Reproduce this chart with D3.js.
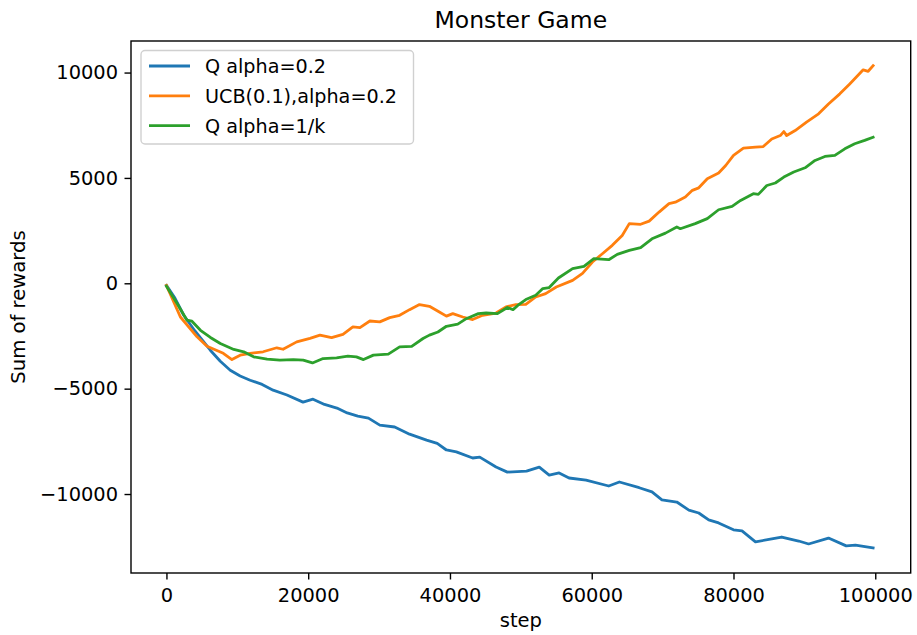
<!DOCTYPE html>
<html><head><meta charset="utf-8">
<script src="https://cdn.jsdelivr.net/npm/d3@7"></script>
<style>
body{margin:0;background:#fff;}
text{font-family:"DejaVu Sans",sans-serif;fill:#000;}
</style></head>
<body><svg id="c" width="917" height="635"></svg>
<script>
const title = "Monster Game";
const xLabel = "step";
const yLabel = "Sum of rewards";
const xTicks = [0, 20000, 40000, 60000, 80000, 100000];
const yTicks = [-10000, -5000, 0, 5000, 10000];
const seriesNames = ["Q alpha=0.2", "UCB(0.1),alpha=0.2", "Q alpha=1/k"];
const seriesColors = ["#1f77b4", "#ff7f0e", "#2ca02c"];

const qAlpha02 = [[0,-100],[1200,-700],[2440,-1517],[4000,-2250],[6190,-3175],[7600,-3700],[9000,-4123],[10400,-4400],[11810,-4600],[13500,-4800],[15050,-5070],[17000,-5300],[19270,-5640],[20680,-5500],[22300,-5750],[24050,-5920],[25500,-6150],[27000,-6300],[28500,-6400],[30100,-6730],[32200,-6820],[34300,-7160],[36700,-7440],[38200,-7600],[39500,-7910],[40900,-8000],[43200,-8290],[44200,-8250],[46500,-8720],[48100,-8960],[50800,-8910],[52600,-8720],[54000,-9100],[55400,-9000],[56800,-9240],[59200,-9340],[62400,-9620],[63900,-9430],[66700,-9700],[68500,-9900],[69900,-10280],[72000,-10380],[73700,-10760],[75100,-10900],[76500,-11230],[77900,-11370],[80000,-11700],[81200,-11750],[83100,-12270],[85400,-12130],[86800,-12040],[89200,-12230],[90600,-12370],[93400,-12090],[95900,-12460],[97200,-12420],[99700,-12560]];

const ucb = [[0,-100],[1970,-1600],[4320,-2540],[5720,-2985],[8020,-3320],[9240,-3620],[10400,-3410],[11800,-3330],[13640,-3250],[15570,-3060],[16450,-3130],[18380,-2780],[20250,-2610],[21660,-2460],[23300,-2580],[24900,-2420],[26300,-2070],[27300,-2100],[28700,-1790],[30100,-1830],[31500,-1630],[32900,-1520],[34300,-1250],[35700,-1010],[37100,-1090],[38500,-1360],[39500,-1560],[40400,-1440],[41800,-1600],[43200,-1720],[44600,-1520],[46500,-1410],[47900,-1120],[49300,-1010],[50700,-1000],[52100,-650],[53500,-490],[55000,-175],[57300,140],[58700,470],[60100,1010],[61500,1400],[62900,1800],[64300,2270],[65300,2830],[66900,2800],[68100,2950],[69500,3380],[70900,3780],[71800,3850],[73200,4090],[74200,4410],[75100,4530],[76300,4960],[77900,5230],[78900,5590],[80000,6070],[81400,6410],[83100,6460],[84200,6490],[85400,6850],[86600,7010],[87100,7200],[87500,7010],[88700,7250],[90300,7650],[92000,8040],[93400,8510],[95000,8990],[96400,9460],[97400,9810],[98300,10130],[99000,10060],[99700,10330]];

const qAlpha1k = [[0,-140],[1500,-960],[2900,-1750],[3600,-1800],[4800,-2230],[6200,-2570],[7600,-2860],[9500,-3140],[10900,-3250],[12300,-3490],[14200,-3600],[16000,-3650],[17900,-3620],[19300,-3650],[20600,-3780],[22100,-3570],[24000,-3540],[25600,-3460],[26800,-3490],[27800,-3620],[29200,-3410],[31300,-3360],[32900,-3020],[34600,-2990],[36200,-2620],[37100,-2460],[38300,-2310],[39500,-2040],[41100,-1940],[42300,-1680],[44000,-1440],[45100,-1410],[46700,-1440],[48100,-1150],[48900,-1250],[49600,-1040],[50700,-770],[52100,-570],[53100,-250],[54000,-200],[55300,250],[57300,700],[58900,800],[60300,1170],[62400,1120],[63600,1370],[65300,1560],[66900,1690],[68500,2110],[70400,2380],[72000,2670],[72500,2590],[74600,2830],[76300,3070],[77900,3490],[79800,3650],[81000,3930],[82800,4250],[83500,4220],[84700,4640],[85900,4760],[87100,5040],[88500,5280],[90100,5480],[91500,5830],[92900,6020],[94300,6070],[95700,6380],[97100,6620],[98500,6780],[99700,6930]];

const allSeries = [qAlpha02, ucb, qAlpha1k];

const svg = d3.select("#c");
const L = 131, R = 910.7, T = 41, B = 573;

const x = d3.scaleLinear().domain([-5000, 105000]).range([L, R]);
const yMin = -12600, yMax = 10350, pad = (yMax - yMin) * 0.05;
const y = d3.scaleLinear().domain([yMin - pad, yMax + pad]).range([B, T]);

const line = d3.line().x(d => x(d[0])).y(d => y(d[1]));

svg.append("g").selectAll("path").data(allSeries).join("path")
  .attr("d", line).attr("fill", "none")
  .attr("stroke", (d, i) => seriesColors[i])
  .attr("stroke-width", 2.8).attr("stroke-linejoin", "round").attr("stroke-linecap", "square");

// axes
const xa = svg.append("g").attr("transform", `translate(0,${B})`)
  .call(d3.axisBottom(x).tickValues(xTicks).tickFormat(d3.format("d")).tickSize(6.5).tickPadding(5));
const ya = svg.append("g").attr("transform", `translate(${L},0)`)
  .call(d3.axisLeft(y).tickValues(yTicks).tickFormat(d => d < 0 ? "\u2212" + Math.abs(d) : String(d)).tickSize(6.5).tickPadding(6.5));
[xa, ya].forEach(a => {
  a.select(".domain").remove();
  a.selectAll("line").attr("stroke", "#000").attr("stroke-width", 1.4);
  a.selectAll("text").attr("font-size", 19.4).attr("font-family", "DejaVu Sans").attr("fill", "#000");
});
xa.selectAll("text").attr("dy", null).attr("y", 28.7);

// frame
svg.append("rect").attr("x", L).attr("y", T).attr("width", R - L).attr("height", B - T)
  .attr("fill", "none").attr("stroke", "#000").attr("stroke-width", 1.4);

svg.append("text").attr("x", (L + R) / 2).attr("y", 28).attr("text-anchor", "middle")
  .attr("font-size", 23.5).text(title);
svg.append("text").attr("x", (L + R) / 2).attr("y", 627).attr("text-anchor", "middle")
  .attr("font-size", 19.5).text(xLabel);
svg.append("text").attr("transform", `translate(25,${(T + B) / 2}) rotate(-90)`).attr("text-anchor", "middle")
  .attr("font-size", 19.6).text(yLabel);

// legend
const lg = svg.append("g");
lg.append("rect").attr("x", 141).attr("y", 50.5).attr("width", 272.5).attr("height", 93.5)
  .attr("rx", 4).attr("fill", "#fff").attr("fill-opacity", 0.8).attr("stroke", "#d0d0d0").attr("stroke-width", 1.4);
seriesNames.forEach((n, i) => {
  const yy = 66 + i * 29.8;
  lg.append("line").attr("x1", 149).attr("x2", 190).attr("y1", yy).attr("y2", yy)
    .attr("stroke", seriesColors[i]).attr("stroke-width", 2.8);
  lg.append("text").attr("x", 205).attr("y", yy + 7).attr("font-size", 19.2).text(n);
});
</script></body></html>
